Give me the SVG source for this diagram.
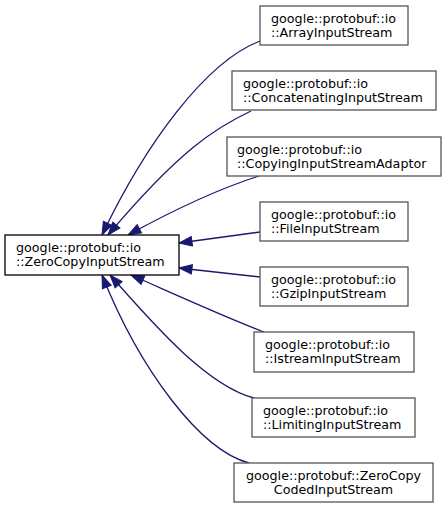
<svg xmlns="http://www.w3.org/2000/svg" width="447" height="509" viewBox="0 0 447 509">
<defs>
<style>
.box{fill:#ffffff;stroke:#555555;stroke-width:1.3}
.base{fill:#ffffff;stroke:#000000;stroke-width:1.3}
text{font-family:"DejaVu Sans",sans-serif;font-size:12.7px;fill:#000000}
.edge{fill:none;stroke:#191970;stroke-width:1.3;marker-end:url(#arr)}
</style>
<marker id="arr" markerUnits="userSpaceOnUse" markerWidth="14" markerHeight="10" refX="13" refY="4.7" orient="auto" overflow="visible">
<path d="M0,0 L13,4.7 L0,9.4 z" fill="#191970" stroke="#191970" stroke-width="1"/>
</marker>
</defs>
<rect width="447" height="509" fill="#ffffff"/>
<g id="edges">
<path class="edge" d="M260,41 C205,62 145,145 102,235"/>
<path class="edge" d="M251,111 C215,128 180,150 108,235"/>
<path class="edge" d="M259,176 C215,190 170,212 128,235"/>
<path class="edge" d="M260,232 L179,243"/>
<path class="edge" d="M260,277 L179,268"/>
<path class="edge" d="M264,332 C220,315 170,292 131,275"/>
<path class="edge" d="M254,398 C205,385 150,320 110,275"/>
<path class="edge" d="M249,463 C200,450 140,370 102,275"/>
</g>
<g id="base">
<rect class="base" x="5" y="235" width="174" height="40"/>
<text x="16" y="252">google::protobuf::io</text>
<text x="16" y="266">::ZeroCopyInputStream</text>
</g>
<g id="array">
<rect class="box" x="260" y="6" width="148" height="39"/>
<text x="271" y="23">google::protobuf::io</text>
<text x="271" y="37">::ArrayInputStream</text>
</g>
<g id="concat">
<rect class="box" x="232" y="71" width="204" height="39"/>
<text x="243" y="88">google::protobuf::io</text>
<text x="243" y="102">::ConcatenatingInputStream</text>
</g>
<g id="copying">
<rect class="box" x="227" y="137" width="214" height="39"/>
<text x="237" y="154">google::protobuf::io</text>
<text x="237" y="168">::CopyingInputStreamAdaptor</text>
</g>
<g id="file">
<rect class="box" x="260" y="202" width="148" height="39"/>
<text x="271" y="219">google::protobuf::io</text>
<text x="271" y="233">::FileInputStream</text>
</g>
<g id="gzip">
<rect class="box" x="260" y="267" width="148" height="39"/>
<text x="271" y="284">google::protobuf::io</text>
<text x="271" y="298">::GzipInputStream</text>
</g>
<g id="istream">
<rect class="box" x="254" y="332" width="160" height="40"/>
<text x="265" y="349">google::protobuf::io</text>
<text x="265" y="363">::IstreamInputStream</text>
</g>
<g id="limiting">
<rect class="box" x="252" y="398" width="163" height="39"/>
<text x="263" y="415">google::protobuf::io</text>
<text x="263" y="429">::LimitingInputStream</text>
</g>
<g id="coded">
<rect class="box" x="234" y="463" width="199" height="39"/>
<text x="333.5" y="480" text-anchor="middle">google::protobuf::ZeroCopy</text>
<text x="333.5" y="494" text-anchor="middle">CodedInputStream</text>
</g>
</svg>
